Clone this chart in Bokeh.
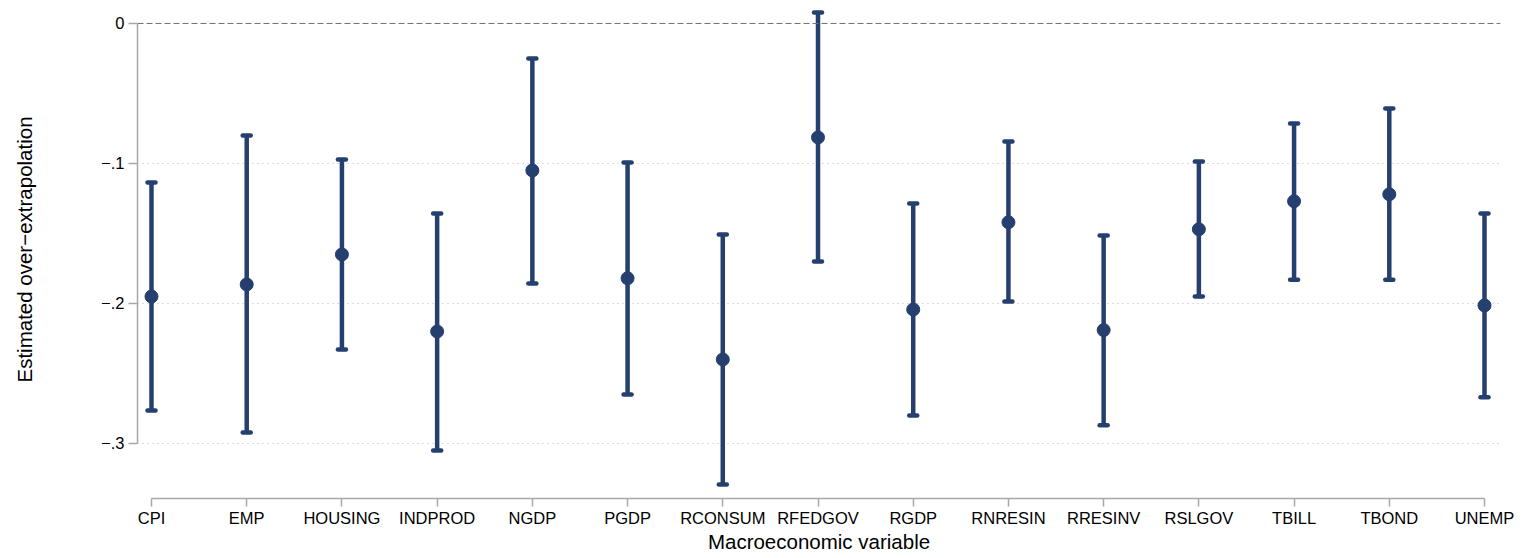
from bokeh.plotting import figure
from bokeh.models import ColumnDataSource, Whisker, TeeHead, Span, FixedTicker
from bokeh.embed import file_html
from bokeh.resources import INLINE

# Macroeconomic series and their estimated over-extrapolation with 95% bands
variables = ["CPI", "EMP", "HOUSING", "INDPROD", "NGDP", "PGDP", "RCONSUM",
             "RFEDGOV", "RGDP", "RNRESIN", "RRESINV", "RSLGOV", "TBILL",
             "TBOND", "UNEMP"]
estimate = [-0.195, -0.1864, -0.165, -0.220, -0.105, -0.182, -0.240,
            -0.0814, -0.2043, -0.142, -0.219, -0.147, -0.127, -0.122, -0.2014]
upper_ci = [-0.1136, -0.080, -0.0971, -0.1357, -0.025, -0.0993, -0.1507,
            0.0079, -0.1286, -0.0843, -0.1514, -0.0986, -0.0714, -0.0607, -0.1357]
lower_ci = [-0.2764, -0.2921, -0.2329, -0.305, -0.1857, -0.265, -0.3293,
            -0.170, -0.280, -0.1986, -0.287, -0.195, -0.183, -0.183, -0.267]
y_ticks = [0.0, -0.1, -0.2, -0.3]
y_tick_labels = ["0", "\u2212.1", "\u2212.2", "\u2212.3"]

NAVY = "#253f6e"
AXIS_GRAY = "#a8a8a8"
FONT = "Liberation Sans"

positions = list(range(len(variables)))
src = ColumnDataSource(dict(x=positions, est=estimate, hi=upper_ci, lo=lower_ci))

p = figure(width=1526, height=558, output_backend="svg", toolbar_location=None,
           x_range=(-0.147, 14.168), y_range=(-0.3393, 0.0164),
           min_border_left=137, min_border_right=26,
           min_border_top=0, min_border_bottom=60)
p.outline_line_color = None
p.background_fill_color = "white"
p.border_fill_color = "white"

# gridlines (dotted) and the reference line at zero (dashed)
p.xgrid.visible = False
p.ygrid.ticker = FixedTicker(ticks=[-0.1, -0.2, -0.3])
p.ygrid.grid_line_color = "#b8b8b8"
p.ygrid.grid_line_dash = "1 4"
p.ygrid.grid_line_width = 1
p.add_layout(Span(location=0, dimension="width", line_color="#707070",
                  line_dash="6 3", line_width=1))

# confidence intervals with capped ends
whisk = Whisker(source=src, base="x", upper="hi", lower="lo", dimension="height",
                line_color=NAVY, line_width=4.5,
                upper_head=TeeHead(size=8, line_color=NAVY, line_width=4.5, line_cap="round"),
                lower_head=TeeHead(size=8, line_color=NAVY, line_width=4.5, line_cap="round"))
p.add_layout(whisk)

# point estimates
p.scatter("x", "est", source=src, size=13, color=NAVY)

# x axis
p.xaxis.ticker = FixedTicker(ticks=positions)
p.xaxis.major_label_overrides = {i: v for i, v in enumerate(variables)}
p.xaxis.bounds = (0, len(variables) - 1)
p.xaxis.axis_label = "Macroeconomic variable"
p.xaxis.minor_tick_line_color = None
p.xaxis.major_tick_in = 0
p.xaxis.major_tick_out = 8
p.xaxis.major_label_standoff = 2

# y axis
p.yaxis.ticker = FixedTicker(ticks=y_ticks)
p.yaxis.major_label_overrides = {t: l for t, l in zip(y_ticks, y_tick_labels)}
p.yaxis.bounds = (-0.3, 0)
p.yaxis.axis_label = "Estimated over\u2212extrapolation"
p.yaxis.minor_tick_line_color = None
p.yaxis.major_tick_in = 0
p.yaxis.major_tick_out = 9
p.yaxis.major_label_standoff = 4
p.yaxis.major_label_orientation = "horizontal"

for ax in (p.xaxis, p.yaxis):
    ax.axis_line_color = AXIS_GRAY
    ax.major_tick_line_color = AXIS_GRAY
    ax.axis_line_width = 1.5
    ax.major_tick_line_width = 1.5
    ax.major_label_text_font = FONT
    ax.major_label_text_font_size = "16.5px"
    ax.major_label_text_color = "black"
    ax.axis_label_text_font = FONT
    ax.axis_label_text_font_size = "20.5px"
    ax.axis_label_text_font_style = "normal"
    ax.axis_label_text_color = "black"

p.xaxis.axis_label_standoff = 0
p.yaxis.axis_label_standoff = 62

open("out.html", "w").write(file_html(p, INLINE))
